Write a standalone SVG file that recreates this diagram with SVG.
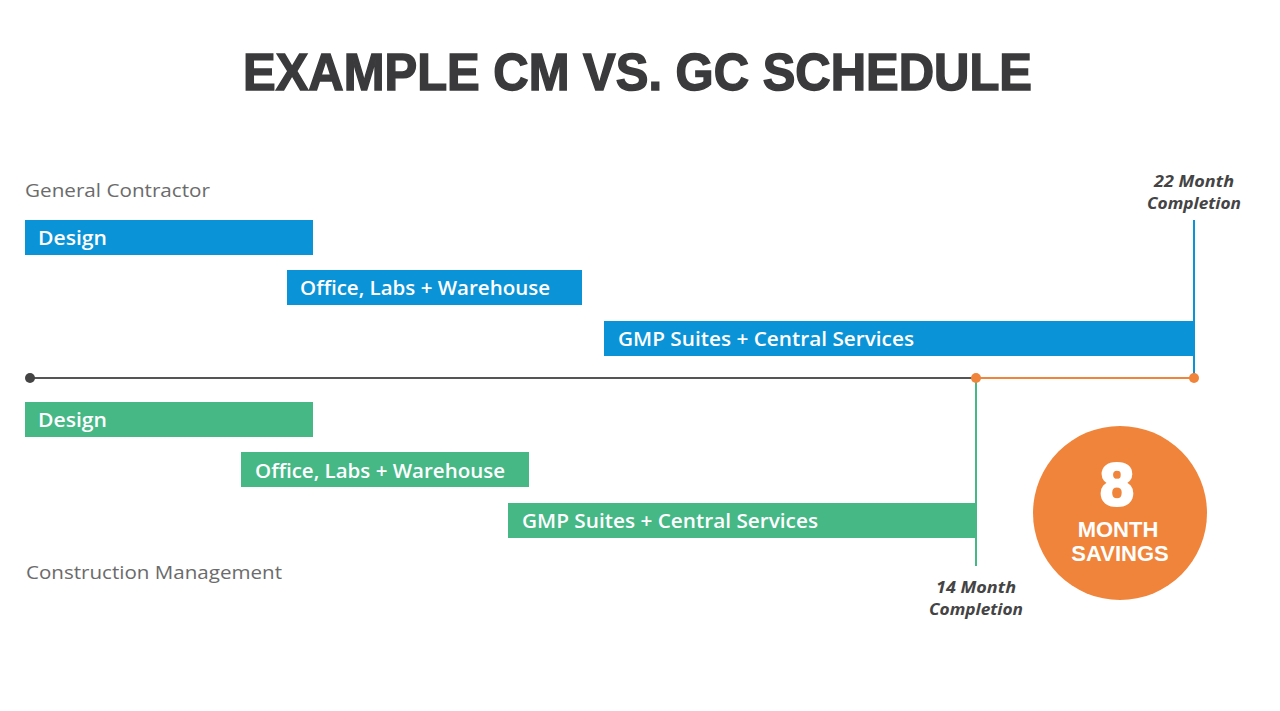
<svg xmlns="http://www.w3.org/2000/svg" width="1280" height="711" viewBox="0 0 1280 711">
<style>
.title{font-family:"Liberation Sans",Arial,sans-serif;font-weight:bold;font-size:52px;fill:#3a3a3c;stroke:#3a3a3c;stroke-width:1.5}
.lab{font-family:"Open Sans","Liberation Sans",sans-serif;font-size:19px;fill:#6b6b6b}
.bt{font-family:"Open Sans","Liberation Sans",sans-serif;font-weight:600;font-size:20px;fill:#ffffff}
.ms{font-family:"Open Sans","Liberation Sans",sans-serif;font-weight:bold;font-style:italic;font-size:16px;fill:#444;text-anchor:middle}
.blue{fill:#0b93d8}
.green{fill:#45b886}
.ct{font-family:"Liberation Sans",Arial,sans-serif;font-weight:bold;fill:#fff;text-anchor:middle}
</style>
<rect width="1280" height="711" fill="#ffffff"/>
<text class="title" x="243" y="90" textLength="789" lengthAdjust="spacingAndGlyphs">EXAMPLE CM VS. GC SCHEDULE</text>
<text class="lab" x="25" y="197" textLength="185" lengthAdjust="spacingAndGlyphs">General Contractor</text>
<text class="lab" x="26" y="579" textLength="256" lengthAdjust="spacingAndGlyphs">Construction Management</text>
<g id="connectors">
<line x1="1194" y1="220" x2="1194" y2="378" stroke="#0b93d8" stroke-width="2"/>
<line x1="976" y1="378" x2="976" y2="566" stroke="#45b886" stroke-width="2"/>
<line x1="30" y1="378" x2="976" y2="378" stroke="#555" stroke-width="2"/>
<line x1="976" y1="378" x2="1194" y2="378" stroke="#f0843a" stroke-width="2"/>
<circle cx="30" cy="378" r="5" fill="#444"/>
<circle cx="976" cy="378" r="5" fill="#f0843a"/>
<circle cx="1194" cy="378" r="5" fill="#f0843a"/>
</g>
<g id="gc-design"><rect class="blue" x="25" y="220" width="288" height="35"/><text class="bt" x="38" y="245" textLength="69" lengthAdjust="spacingAndGlyphs">Design</text></g>
<g id="gc-office"><rect class="blue" x="287" y="270" width="295" height="35"/><text class="bt" x="300" y="295" textLength="250" lengthAdjust="spacingAndGlyphs">Office, Labs + Warehouse</text></g>
<g id="gc-gmp"><rect class="blue" x="604" y="321" width="590" height="35"/><text class="bt" x="618" y="346" textLength="296" lengthAdjust="spacingAndGlyphs">GMP Suites + Central Services</text></g>
<g id="cm-design"><rect class="green" x="25" y="402" width="288" height="35"/><text class="bt" x="38" y="427" textLength="69" lengthAdjust="spacingAndGlyphs">Design</text></g>
<g id="cm-office"><rect class="green" x="241" y="452" width="288" height="35"/><text class="bt" x="255" y="478" textLength="250" lengthAdjust="spacingAndGlyphs">Office, Labs + Warehouse</text></g>
<g id="cm-gmp"><rect class="green" x="508" y="503" width="468" height="35"/><text class="bt" x="522" y="528" textLength="296" lengthAdjust="spacingAndGlyphs">GMP Suites + Central Services</text></g>
<g id="gc-completion"><text class="ms" x="1194" y="187" textLength="80" lengthAdjust="spacingAndGlyphs">22 Month</text><text class="ms" x="1194" y="209" textLength="94" lengthAdjust="spacingAndGlyphs">Completion</text></g>
<g id="cm-completion"><text class="ms" x="976" y="593" textLength="80" lengthAdjust="spacingAndGlyphs">14 Month</text><text class="ms" x="976" y="615" textLength="94" lengthAdjust="spacingAndGlyphs">Completion</text></g>
<g id="savings">
<circle cx="1120" cy="513" r="87" fill="#f0843a"/>
<text class="ct" x="1117" y="505" font-size="60" stroke="#fff" stroke-width="3">8</text>
<text class="ct" x="1118" y="537" font-size="22">MONTH</text>
<text class="ct" x="1120" y="561" font-size="22">SAVINGS</text>
</g>
</svg>
